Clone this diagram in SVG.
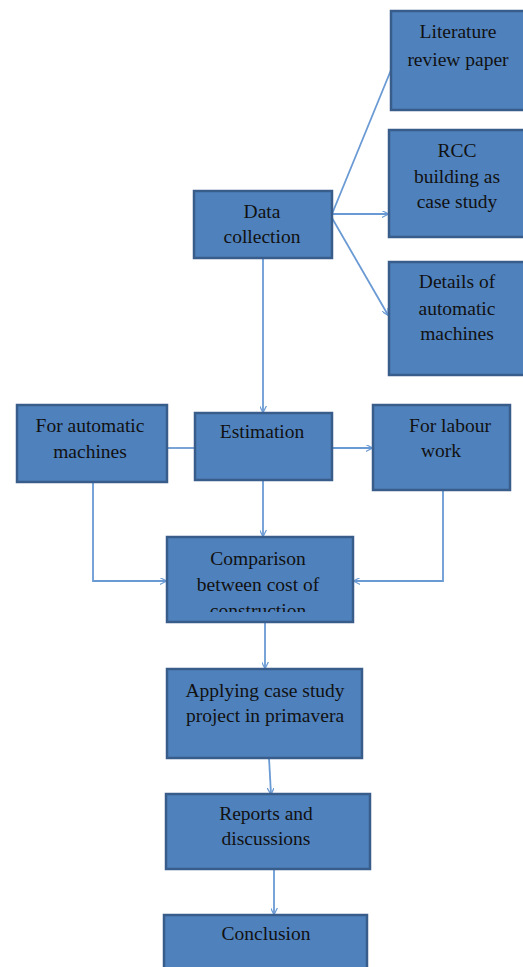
<svg xmlns="http://www.w3.org/2000/svg" width="523" height="967" viewBox="0 0 523 967">
  <style>
    .box { fill: #4f81bd; stroke: #385d8a; stroke-width: 2.5; }
    .lbl { font-family: "Liberation Serif", "DejaVu Serif", serif; font-size: 19.5px; fill: #111; text-anchor: middle; }
    .link { fill: none; stroke: #6a9ad4; stroke-width: 1.8; }
  </style>
  <defs>
    <marker id="arrow" viewBox="0 0 10 10" refX="9" refY="5" markerWidth="7" markerHeight="7" orient="auto" markerUnits="userSpaceOnUse">
      <path d="M0,0 L10,5 L0,10" fill="none" stroke="#6a9ad4" stroke-width="1.8"/>
    </marker>
    <clipPath id="cmpClip">
      <rect x="167" y="537" width="186" height="75"/>
    </clipPath>
  </defs>

  <rect width="523" height="967" fill="#ffffff"/>

  <g id="connectors">
    <line class="link" x1="332" y1="214" x2="391" y2="70"/>
    <line class="link" x1="332" y1="214" x2="388" y2="214" marker-end="url(#arrow)"/>
    <line class="link" x1="332" y1="218" x2="388" y2="315" marker-end="url(#arrow)"/>
    <line class="link" x1="263" y1="258" x2="263" y2="412" marker-end="url(#arrow)"/>
    <line class="link" x1="167" y1="448" x2="195" y2="448"/>
    <line class="link" x1="332" y1="448" x2="372" y2="448" marker-end="url(#arrow)"/>
    <line class="link" x1="263" y1="480" x2="263" y2="536" marker-end="url(#arrow)"/>
    <polyline class="link" points="93,482 93,581 166,581" marker-end="url(#arrow)"/>
    <polyline class="link" points="443,490 443,581 354,581" marker-end="url(#arrow)"/>
    <line class="link" x1="265" y1="622" x2="265" y2="668" marker-end="url(#arrow)"/>
    <line class="link" x1="269" y1="758" x2="271" y2="794" marker-end="url(#arrow)"/>
    <line class="link" x1="274" y1="869" x2="274" y2="914" marker-end="url(#arrow)"/>
  </g>

  <g id="literature">
    <rect class="box" x="391" y="11" width="136" height="99"/>
    <text class="lbl" x="458" y="38">Literature</text>
    <text class="lbl" x="458" y="66">review paper</text>
  </g>

  <g id="rcc-building">
    <rect class="box" x="389" y="130" width="138" height="107"/>
    <text class="lbl" x="457" y="157">RCC</text>
    <text class="lbl" x="457" y="183">building as</text>
    <text class="lbl" x="457" y="208">case study</text>
  </g>

  <g id="machine-details">
    <rect class="box" x="389" y="262" width="138" height="113"/>
    <text class="lbl" x="457" y="288">Details of</text>
    <text class="lbl" x="457" y="315">automatic</text>
    <text class="lbl" x="457" y="340">machines</text>
  </g>

  <g id="data-collection">
    <rect class="box" x="194" y="191" width="138" height="67"/>
    <text class="lbl" x="262" y="218">Data</text>
    <text class="lbl" x="262" y="243">collection</text>
  </g>

  <g id="automatic-machines">
    <rect class="box" x="17" y="405" width="150" height="77"/>
    <text class="lbl" x="90" y="432">For automatic</text>
    <text class="lbl" x="90" y="458">machines</text>
  </g>

  <g id="estimation">
    <rect class="box" x="195" y="413" width="137" height="67"/>
    <text class="lbl" x="262" y="438">Estimation</text>
  </g>

  <g id="labour-work">
    <rect class="box" x="373" y="405" width="137" height="85"/>
    <text class="lbl" x="450" y="432">For labour</text>
    <text class="lbl" x="441" y="457">work</text>
  </g>

  <g id="comparison">
    <rect class="box" x="167" y="537" width="186" height="85"/>
    <g clip-path="url(#cmpClip)">
      <text class="lbl" x="258" y="565">Comparison</text>
      <text class="lbl" x="258" y="591">between cost of</text>
      <text class="lbl" x="258" y="617">construction</text>
    </g>
  </g>

  <g id="primavera">
    <rect class="box" x="167" y="669" width="195" height="89"/>
    <text class="lbl" x="265" y="697">Applying case study</text>
    <text class="lbl" x="265" y="722">project in primavera</text>
  </g>

  <g id="reports">
    <rect class="box" x="166" y="794" width="204" height="75"/>
    <text class="lbl" x="266" y="820">Reports and</text>
    <text class="lbl" x="266" y="845">discussions</text>
  </g>

  <g id="conclusion">
    <rect class="box" x="164" y="915" width="203" height="60"/>
    <text class="lbl" x="266" y="940">Conclusion</text>
  </g>
</svg>
